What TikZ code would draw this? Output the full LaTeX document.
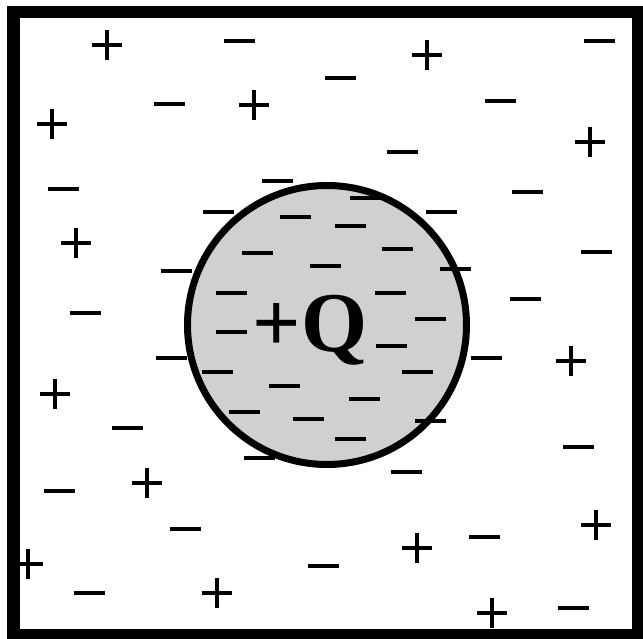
\documentclass[tikz,border=0pt]{standalone}
\usepackage{fontspec}
\setmainfont{Liberation Serif}
\usepackage{tikz}
\definecolor{ballGrey}{HTML}{D0D0D0}
\tikzset{
  signbar/.style={line width=3.8pt},
  wall/.style={line width=12.5pt},
  ball/.style={line width=7pt, fill=ballGrey}
}
\begin{document}
\begin{tikzpicture}[x=1pt, y=-1pt]
  \useasboundingbox (0,0) rectangle (643,639);
  \draw[wall] (13.5,12) rectangle (638,635);
  \draw[ball] (327,325) circle (139.5pt);
  \node[inner sep=0pt, anchor=base, font=\fontsize{85}{85}\selectfont\bfseries] (charge) at (310,352) {+Q};
  \foreach \x/\y in {239/41, 599/41, 340/78, 169/104, 500/101, 402/152, 63/189, 277/181, 527/192,
                     218/212, 295/217, 365/198, 441/212, 350/226, 257/253, 397/249, 596/252,
                     176/271, 325/266, 455/269, 231/293, 390/293, 525/299, 85/313, 430/319,
                     231/332, 391/346, 171/358, 486/358, 217/372, 417/372, 284/386, 364/399,
                     244/412, 308/419, 430/421, 127/428, 350/439, 578/447, 259/458, 406/472,
                     59/491, 185/529, 484/537, 323/566, 89/593, 573/608}
    \draw[signbar] (\x-15.5,\y) -- (\x+15.5,\y);
  \foreach \x/\y in {107/45, 427/55, 254/105, 52/124, 590/142, 76/243, 571/361, 55/394,
                     147/483, 596/525, 417/548, 28/564, 217/593, 492/613}
    \draw[signbar] (\x-15,\y) -- (\x+15,\y) (\x,\y-15) -- (\x,\y+15);
\end{tikzpicture}
\end{document}
